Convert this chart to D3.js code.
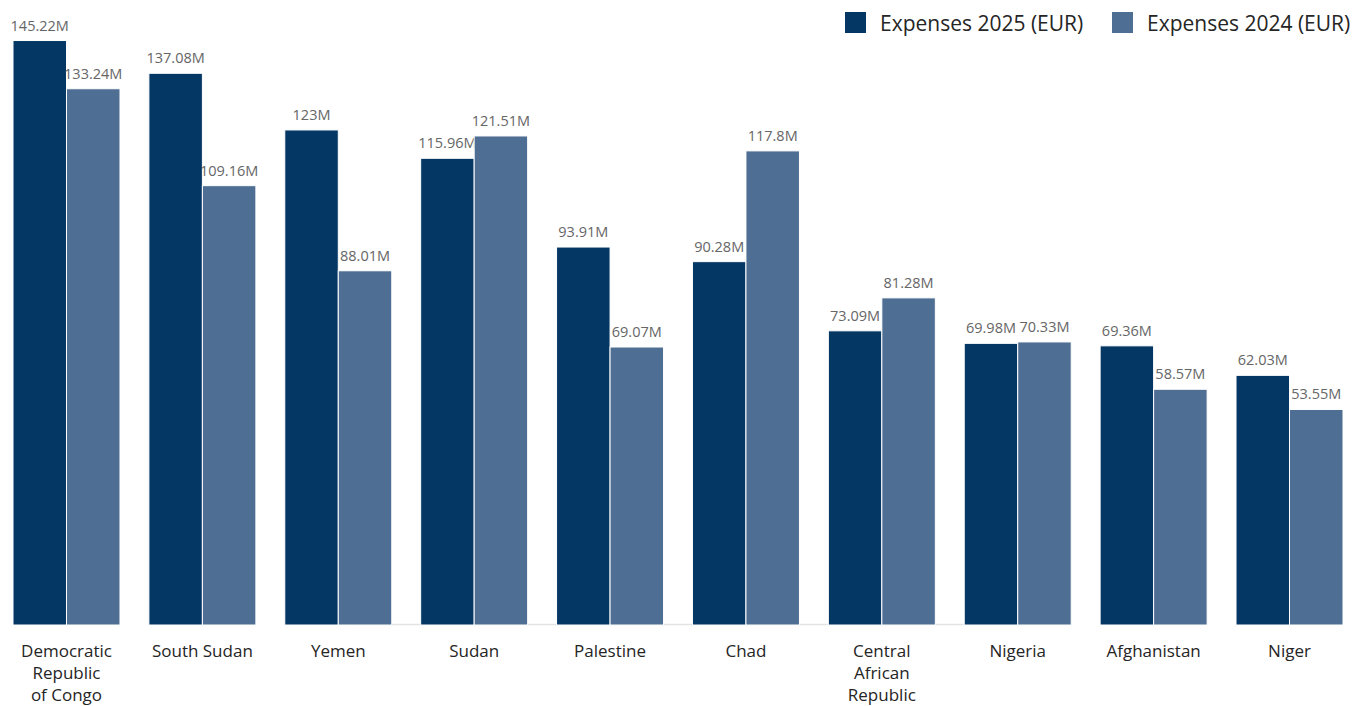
<!DOCTYPE html>
<html>
<head>
<meta charset="utf-8">
<script src="https://cdn.jsdelivr.net/npm/d3@7"></script>
<style>
  html, body { margin: 0; padding: 0; background: #fff; }
  svg { display: block; font-family: "Open Sans", "Noto Sans", sans-serif; }
</style>
</head>
<body>
<svg id="chart" width="1357" height="706"></svg>
<script>
const categories = ["Democratic Republic of Congo", "South Sudan", "Yemen", "Sudan", "Palestine", "Chad", "Central African Republic", "Nigeria", "Afghanistan", "Niger"];
const expenses2025 = [145.22, 137.08, 123, 115.96, 93.91, 90.28, 73.09, 69.98, 69.36, 62.03];
const expenses2024 = [133.24, 109.16, 88.01, 121.51, 69.07, 117.8, 81.28, 70.33, 58.57, 53.55];
const seriesNames = ["Expenses 2025 (EUR)", "Expenses 2024 (EUR)"];
const seriesColors = ["#043764", "#4F6E93"];

const series = [expenses2025, expenses2024];
const svg = d3.select("#chart");

const x = d3.scaleBand().domain(categories).range([13, 1343]).paddingInner(0.2127).paddingOuter(0);
const xs = d3.scaleBand().domain([0, 1]).range([0, x.bandwidth()]);
const y = d3.scaleLinear().domain([0, 145.6]).range([625, 39]);

// partial baseline
svg.append("line")
  .attr("x1", x("Yemen") + x.bandwidth() * 0.56)
  .attr("x2", x("Nigeria") + x.bandwidth() * 0.55)
  .attr("y1", 624.5).attr("y2", 624.5)
  .attr("stroke", "#e3e3e3").attr("stroke-width", 1.5);

const fmt = v => (+v.toFixed(2)).toString() + "M";

series.forEach((vals, si) => {
  const g = svg.append("g");
  g.selectAll("rect").data(vals).join("rect")
    .attr("x", (d, i) => x(categories[i]) + xs(si))
    .attr("y", d => y(d))
    .attr("width", xs.bandwidth())
    .attr("height", d => y(0) - y(d))
    .attr("fill", seriesColors[si])
    .attr("stroke", "#ffffff").attr("stroke-width", 1);
  g.selectAll("text").data(vals).join("text")
    .attr("x", (d, i) => x(categories[i]) + xs(si) + xs.bandwidth() / 2)
    .attr("y", d => y(d) - 10)
    .attr("text-anchor", "middle")
    .attr("font-size", 14.5)
    .attr("fill", "#666666")
    .text(d => fmt(d));
});

// category labels with wrapping (short words like "of" stay with the next word)
const maxW = x.bandwidth();
const smallWords = new Set(["of", "the", "and"]);
categories.forEach(c => {
  const cx = x(c) + x.bandwidth() / 2;
  const t = svg.append("text")
    .attr("x", cx)
    .attr("y", 657)
    .attr("text-anchor", "middle")
    .attr("font-size", 17)
    .attr("fill", "#252525");
  const raw = c.split(" ");
  const words = [];
  for (let i = 0; i < raw.length; i++) {
    if (smallWords.has(raw[i]) && i + 1 < raw.length) { words.push(raw[i] + " " + raw[i + 1]); i++; }
    else words.push(raw[i]);
  }
  let line = [];
  let tspan = t.append("tspan").attr("x", cx).attr("dy", 0);
  words.forEach(w => {
    line.push(w);
    tspan.text(line.join(" "));
    if (tspan.node().getComputedTextLength() > maxW && line.length > 1) {
      line.pop();
      tspan.text(line.join(" "));
      line = [w];
      tspan = t.append("tspan").attr("x", cx).attr("dy", 22).text(w);
    }
  });
});

// legend
const legendX = [845, 1112];
seriesNames.forEach((name, i) => {
  svg.append("rect").attr("x", legendX[i]).attr("y", 12).attr("width", 21).attr("height", 21)
    .attr("fill", seriesColors[i]);
  svg.append("text").attr("x", legendX[i] + 35).attr("y", 31)
    .attr("font-size", 21).attr("fill", "#252525").text(name);
});
</script>
</body>
</html>
